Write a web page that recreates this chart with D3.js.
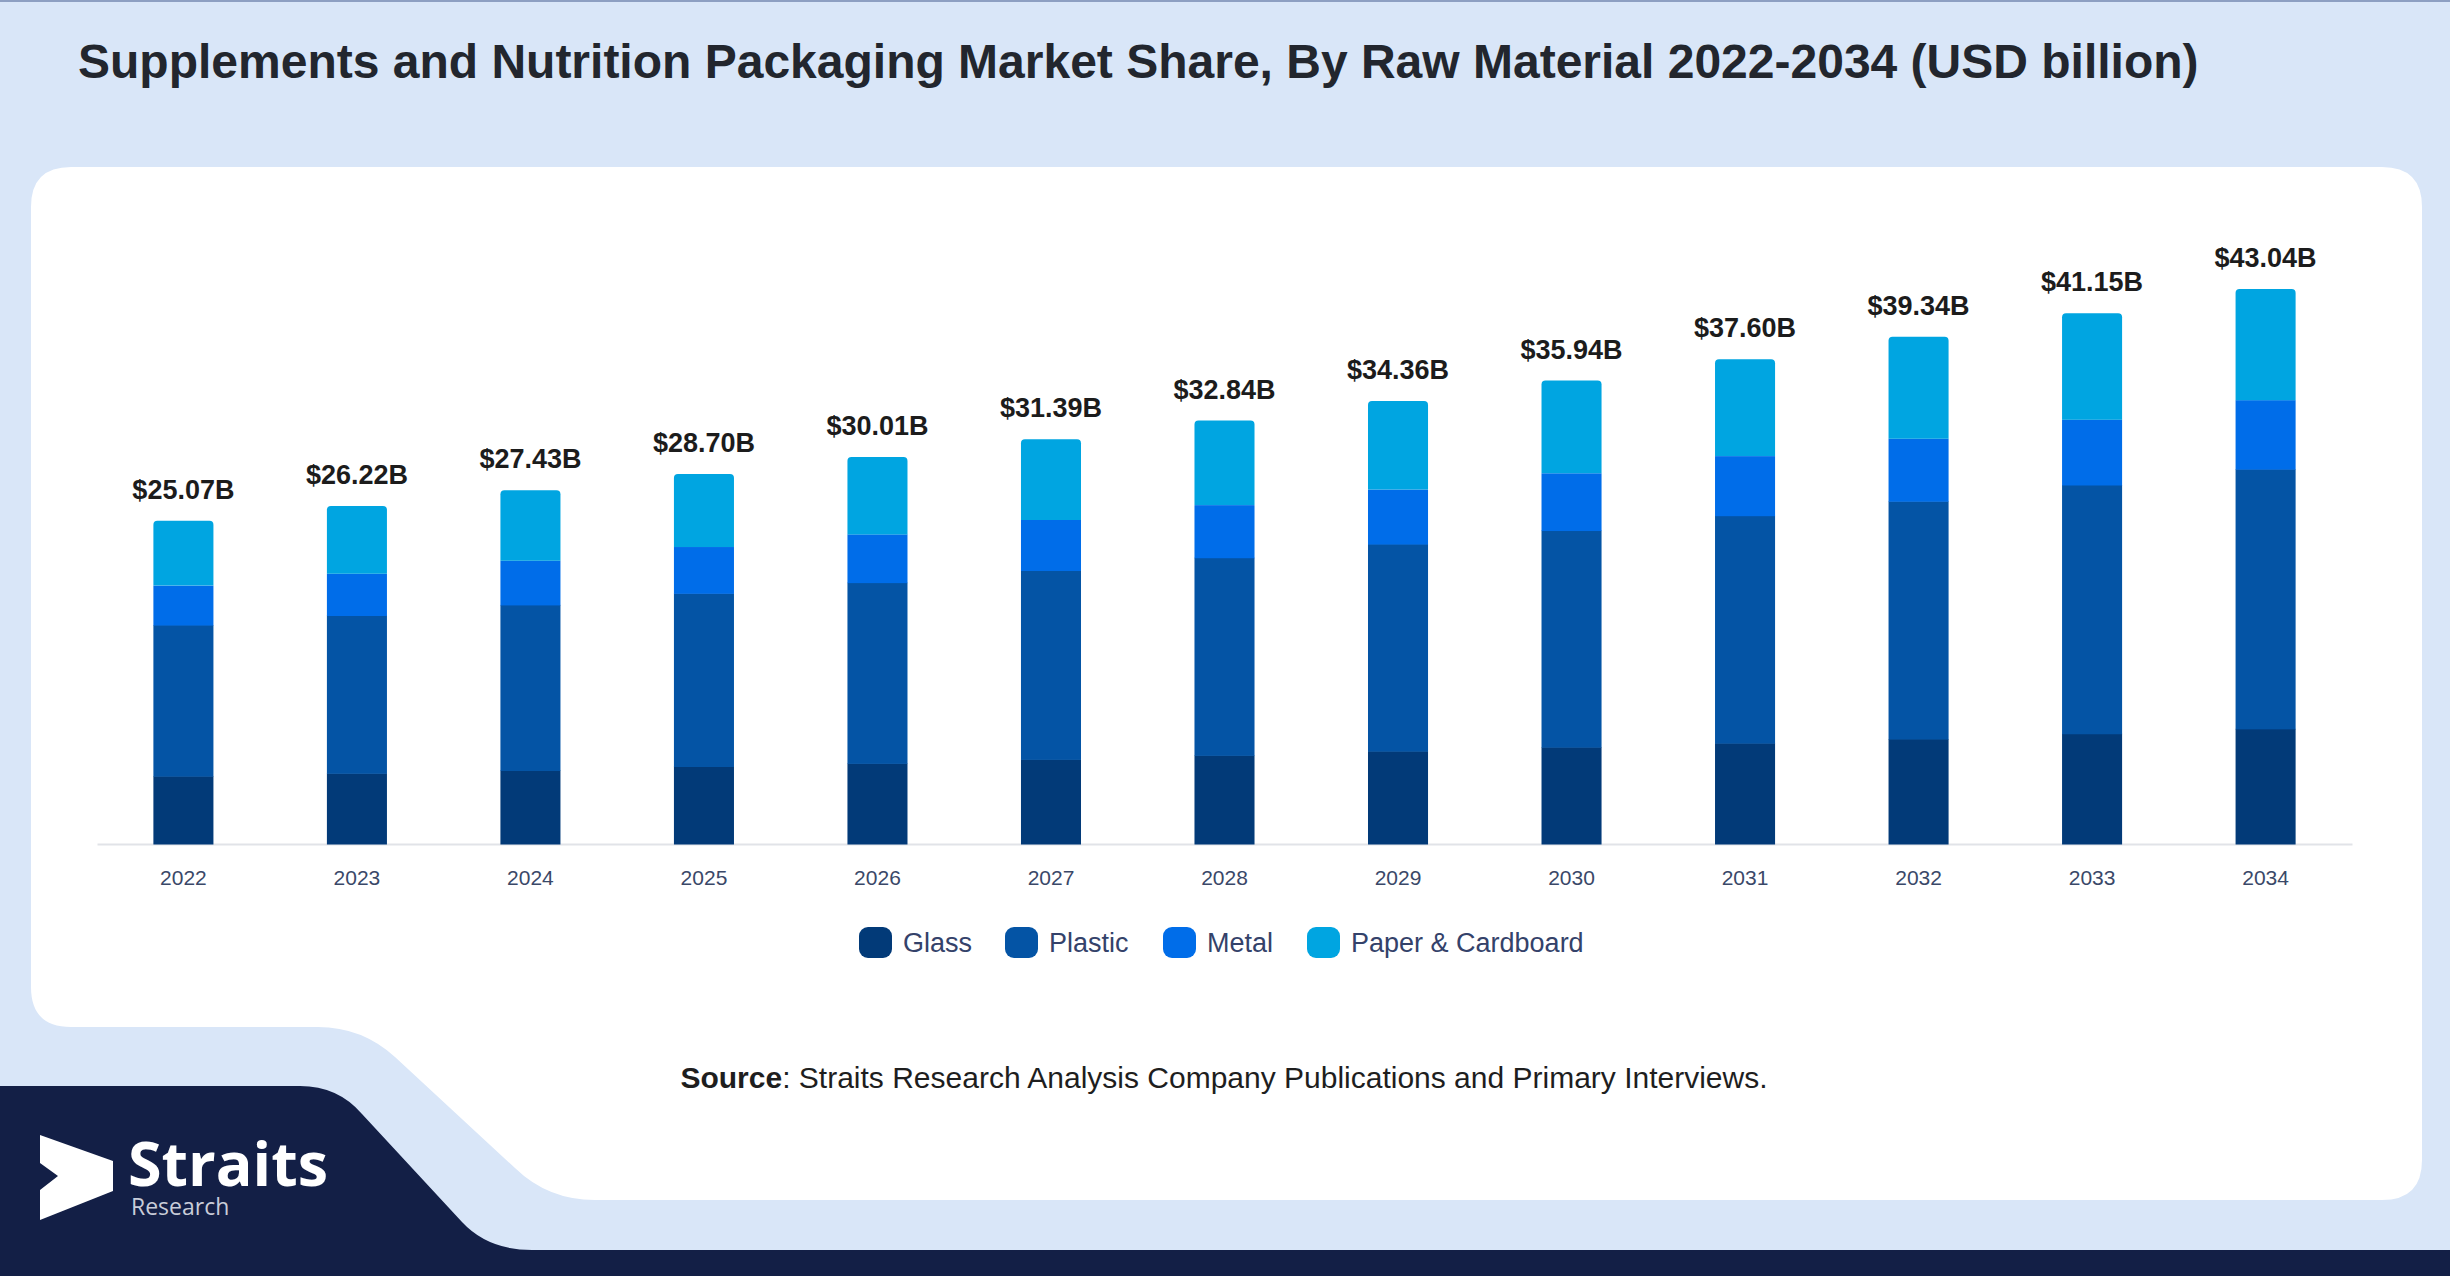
<!DOCTYPE html>
<html>
<head>
<meta charset="utf-8">
<script src="https://cdn.jsdelivr.net/npm/d3@7"></script>
<style>
  html, body { margin: 0; padding: 0; background: #d9e6f8; }
  svg { display: block; }
</style>
</head>
<body>
<div id="chart"></div>
<script>
// chart data
const years = ['2022', '2023', '2024', '2025', '2026', '2027', '2028', '2029', '2030', '2031', '2032', '2033', '2034'];
const glass = [5.26, 5.48, 5.70, 6.01, 6.25, 6.56, 6.87, 7.20, 7.51, 7.82, 8.14, 8.55, 8.93];
const plastic = [11.72, 12.24, 12.84, 13.43, 14.02, 14.65, 15.33, 16.06, 16.80, 17.64, 18.44, 19.29, 20.14];
const metal = [3.06, 3.24, 3.43, 3.59, 3.74, 3.92, 4.08, 4.23, 4.44, 4.62, 4.85, 5.07, 5.35];
const paper = [5.03, 5.26, 5.46, 5.67, 6.00, 6.26, 6.56, 6.87, 7.19, 7.52, 7.91, 8.24, 8.62];
const totals = [25.07, 26.22, 27.43, 28.70, 30.01, 31.39, 32.84, 34.36, 35.94, 37.60, 39.34, 41.15, 43.04];
const seriesNames = ['Glass', 'Plastic', 'Metal', 'Paper & Cardboard'];
const seriesColors = ['#023a78', '#0454a5', '#006de9', '#00a5e1'];

// page static params
const W = 2450, H = 1276;
const baseY = 844, topY = 289;
const plotLeft = 97, plotRight = 2352;

const svg = d3.select('#chart').append('svg')
    .attr('width', W)
    .attr('height', H);

// background
svg.append('rect').attr('width', W).attr('height', H).attr('fill', '#d9e6f8');
svg.append('rect').attr('width', W).attr('height', 2).attr('fill', '#8d9fc2');

// white card with the stepped bottom
svg.append('path')
  .attr('d', 'M71,167 L2382,167 Q2422,167 2422,207 L2422,1160 Q2422,1200 2382,1200 ' +
             'L595,1200 Q548,1200 515,1168 L395,1057 Q362,1027 318,1027 ' +
             'L71,1027 Q31,1027 31,987 L31,207 Q31,167 71,167 Z')
  .attr('fill', '#ffffff');

// navy footer
svg.append('path')
  .attr('d', 'M0,1086 L300,1086 Q338,1086 362,1114 L462,1222 Q488,1250 532,1250 ' +
             'L2450,1250 L2450,1276 L0,1276 Z')
  .attr('fill', '#131f46');

// title
svg.append('text')
  .attr('x', 78).attr('y', 78)
  .attr('font-family', '"Liberation Sans", Arial, sans-serif')
  .attr('font-weight', 700)
  .attr('font-size', 48)
  .attr('fill', '#22262e')
  .text('Supplements and Nutrition Packaging Market Share, By Raw Material 2022-2034 (USD billion)');

// scales
const xScale = d3.scaleBand()
  .domain(years)
  .range([plotLeft, plotRight])
  .paddingInner(0.654)
  .paddingOuter(0.325);

const yScale = d3.scaleLinear()
  .domain([0, 43.04])
  .range([baseY, topY]);

// stacked data
const rows = years.map((y, i) => ({
  year: y,
  'Glass': glass[i],
  'Plastic': plastic[i],
  'Metal': metal[i],
  'Paper & Cardboard': paper[i]
}));
const stacked = d3.stack().keys(seriesNames)(rows);

// x axis
const xAxisG = svg.append('g')
  .attr('transform', `translate(0,${baseY})`)
  .call(d3.axisBottom(xScale).tickSize(0).tickPadding(26).tickSizeOuter(0));
xAxisG.select('.domain').attr('stroke', '#e1e3e8').attr('stroke-width', 2);
xAxisG.selectAll('text')
  .attr('font-family', '"Liberation Sans", Arial, sans-serif')
  .attr('font-size', 21)
  .attr('fill', '#3a4868');

// rounded top for the last segment
const topRounded = (x, y, w, h, r) =>
  `M${x},${y + h} L${x},${y + r} Q${x},${y} ${x + r},${y} L${x + w - r},${y} Q${x + w},${y} ${x + w},${y + r} L${x + w},${y + h} Z`;

const bw = xScale.bandwidth();
stacked.forEach((layer, li) => {
  const g = svg.append('g').attr('fill', seriesColors[li]);
  layer.forEach(d => {
    const x = xScale(d.data.year);
    const y0 = yScale(d[0]), y1 = yScale(d[1]);
    if (li === seriesNames.length - 1) {
      g.append('path').attr('d', topRounded(x, y1, bw, y0 - y1, 4));
    } else {
      g.append('rect')
        .attr('x', x).attr('y', y1)
        .attr('width', bw).attr('height', y0 - y1 + 0.5);
    }
  });
});

// value labels
svg.append('g').selectAll('text')
  .data(years)
  .join('text')
    .attr('x', d => xScale(d) + bw / 2)
    .attr('y', (d, i) => yScale(totals[i]) - 22)
    .attr('text-anchor', 'middle')
    .attr('font-family', '"Liberation Sans", Arial, sans-serif')
    .attr('font-weight', 700)
    .attr('font-size', 27)
    .attr('fill', '#1c1c1c')
    .text((d, i) => `$${totals[i].toFixed(2)}B`);

// legend
const legendX = [859, 1005, 1163, 1307];
const legend = svg.append('g');
seriesNames.forEach((name, i) => {
  const item = legend.append('g').attr('transform', `translate(${legendX[i]},927)`);
  item.append('rect')
    .attr('width', 33).attr('height', 31)
    .attr('rx', 9).attr('ry', 9)
    .attr('fill', seriesColors[i]);
  item.append('text')
    .attr('x', 44).attr('y', 25)
    .attr('font-family', '"Liberation Sans", Arial, sans-serif')
    .attr('font-size', 27)
    .attr('fill', '#34426a')
    .text(name);
});

// source line
const src = svg.append('text')
  .attr('x', 1224).attr('y', 1088)
  .attr('text-anchor', 'middle')
  .attr('font-family', '"Liberation Sans", Arial, sans-serif')
  .attr('font-size', 30)
  .attr('fill', '#1e1e1e');
src.append('tspan').attr('font-weight', 700).text('Source');
src.append('tspan').text(': Straits Research Analysis Company Publications and Primary Interviews.');

// logo
svg.append('path')
  .attr('d', 'M40,1135 L113,1161 L113,1191 L40,1220 L40,1190 L58,1176 L40,1163 Z')
  .attr('fill', '#ffffff');
svg.append('text')
  .attr('x', 128).attr('y', 1186)
  .attr('font-family', '"Open Sans", "Noto Sans", sans-serif')
  .attr('font-weight', 700)
  .attr('font-size', 61)
  .attr('fill', '#ffffff')
  .text('Straits');
svg.append('text')
  .attr('x', 131).attr('y', 1215)
  .attr('font-family', '"Open Sans", "Noto Sans", sans-serif')
  .attr('font-size', 23)
  .attr('fill', '#c9cdd9')
  .text('Research');
</script>
</body>
</html>
